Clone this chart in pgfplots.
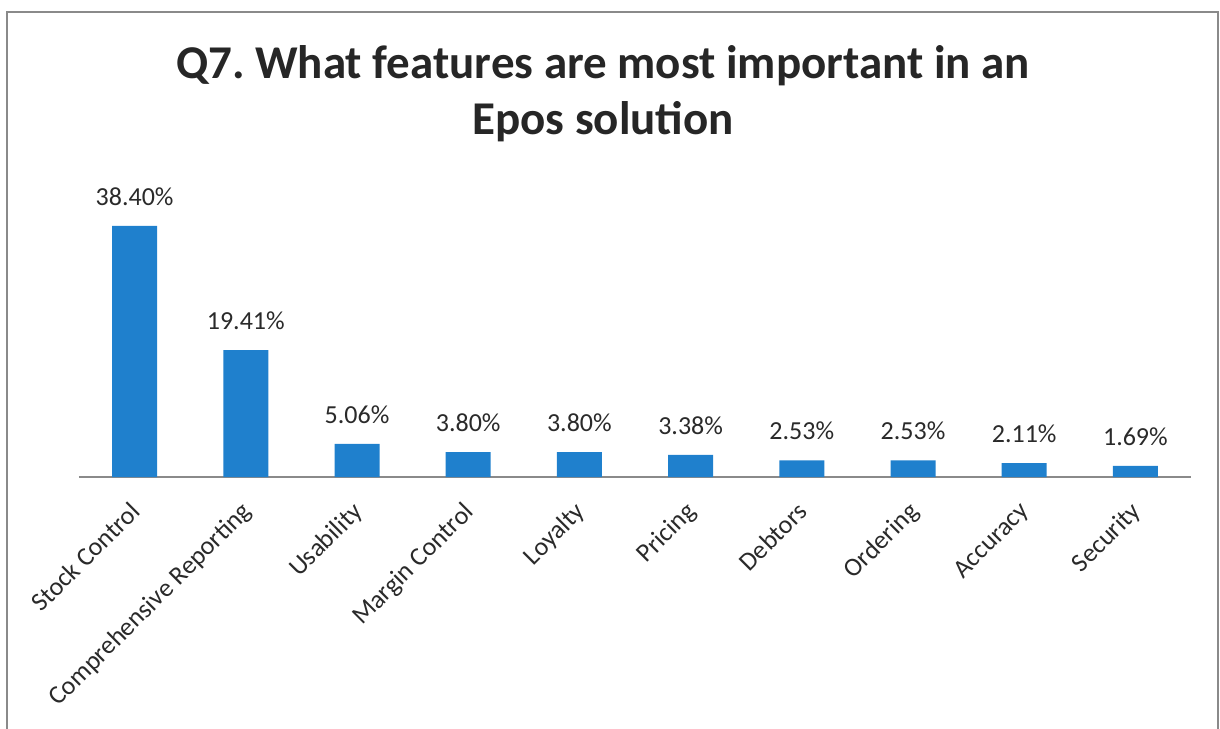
\documentclass[border=0pt]{standalone}
\usepackage{pgfplots}
\pgfplotsset{compat=1.18}
\usepackage{fontspec}
\setmainfont{Carlito}
\frenchspacing

\definecolor{barblue}{HTML}{1F80CD}
\definecolor{txt}{HTML}{2A2A2A}
\definecolor{framegray}{HTML}{8A8A8A}

\begin{document}
\begin{tikzpicture}
    % 1 px of the reference = 0.5pt; origin = left end of the category axis
    \useasboundingbox (-39.5pt,-125.5pt) rectangle (570.5pt,238.5pt);
    \draw[framegray, line width=1pt] (-36pt,-127pt) -- (-36pt,232.5pt) -- (569.5pt,232.5pt) -- (569.5pt,-127pt);

    \node[anchor=base, font=\fontsize{23.5}{28}\selectfont\bfseries, text=black!85]
        at (262pt,199pt) {Q7. What features are most important in an};
    \node[anchor=base, font=\fontsize{23.5}{28}\selectfont\bfseries, text=black!85]
        at (262pt,171pt) {Epos solution};

    \begin{axis}[
        at={(0,0)}, anchor=south west,
        scale only axis,
        width=556pt, height=130.8pt,
        xmin=-0.5, xmax=9.5,
        ymin=0, ymax=40,
        axis x line=bottom,
        axis y line=none,
        axis line style={-, draw=framegray, line width=0.8pt},
        xtick={0,...,9},
        xticklabels={Stock Control, Comprehensive Reporting, Usability, Margin Control,
                     Loyalty, Pricing, Debtors, Ordering, Accuracy, Security},
        major tick length=0pt,
        xticklabel style={xshift=-3pt, yshift=-11.5pt, rotate=45, anchor=north east,
                          inner sep=0pt, font=\fontsize{13}{15}\selectfont, text=txt},
        ybar,
        bar width=22.5pt,
        point meta=explicit symbolic,
        nodes near coords={\pgfplotspointmeta\%},
        every node near coord/.append style={font=\fontsize{13}{15}\selectfont,
                                             text=txt, inner sep=0pt, yshift=10pt},
        clip=false,
    ]
    \addplot[fill=barblue, draw=none] coordinates {
        (0,38.40) [38.40]
        (1,19.41) [19.41]
        (2,5.06)  [5.06]
        (3,3.80)  [3.80]
        (4,3.80)  [3.80]
        (5,3.38)  [3.38]
        (6,2.53)  [2.53]
        (7,2.53)  [2.53]
        (8,2.11)  [2.11]
        (9,1.69)  [1.69]
    };
    \end{axis}
\end{tikzpicture}
\end{document}
